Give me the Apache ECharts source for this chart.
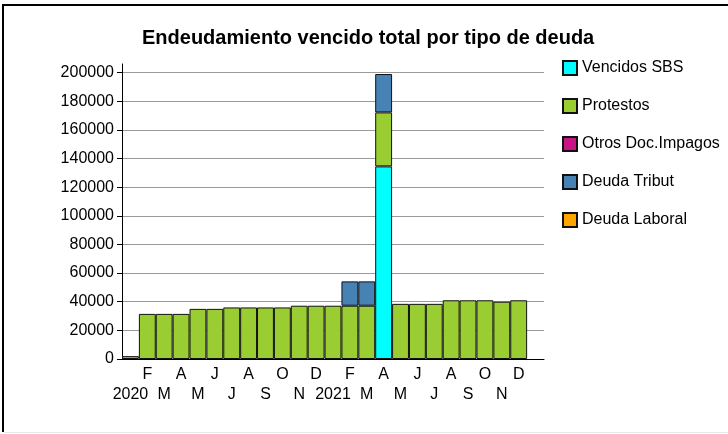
<!DOCTYPE html>
<html>
<head>
<meta charset="utf-8">
<script src="https://cdn.jsdelivr.net/npm/echarts@6/dist/echarts.min.js"></script>
<style>
html,body{margin:0;padding:0;background:#fff;}
#c{width:728px;height:434px;}
</style>
</head>
<body>
<div id="c"></div>
<script>
// Months Jan 2020 .. Dec 2021 (plus one empty trailing slot on the axis)
var monthLabels = ['2020','F','M','A','M','J','J','A','S','O','N','D',
                   '2021','F','M','A','M','J','J','A','S','O','N','D',''];
var seriesNames = ['Vencidos SBS','Protestos','Otros Doc.Impagos','Deuda Tribut','Deuda Laboral'];
var vencidosSBS = [0,0,0,0,0,0,0,0,0,0,0,0, 0,0,0,134500,0,0,0,0,0,0,0,0];
var protestos   = [2000,31500,31500,31500,35000,35000,36000,36000,36000,36000,37200,37200,
                   37200,37200,37200,37700,38500,38500,38500,41000,41000,41000,40000,41000];
var otrosDoc    = [0,0,0,0,0,0,0,0,0,0,0,0, 0,0,0,0,0,0,0,0,0,0,0,0];
var deudaTribut = [0,0,0,0,0,0,0,0,0,0,0,0, 0,17000,17000,26800,0,0,0,0,0,0,0,0];
var deudaLaboral= [0,0,0,0,0,0,0,0,0,0,0,0, 0,0,0,0,0,0,0,0,0,0,0,0];
var yTicks = [0,20000,40000,60000,80000,100000,120000,140000,160000,180000,200000];

var colors = ['#00FFFF','#9ACD32','#C71585','#4682B4','#FFA500'];
var allData = [vencidosSBS, protestos, otrosDoc, deudaTribut, deudaLaboral];
var FONT = 'Liberation Sans';

var chart = echarts.init(document.getElementById('c'), null, {renderer:'canvas'});
var series = seriesNames.map(function(n, k){
  return {
    name: n, type: 'bar', stack: 'total',
    barCategoryGap: 0, barGap: 0,
    itemStyle: {color: colors[k], borderColor: '#111', borderWidth: 1},
    emphasis: {disabled: true},
    data: allData[k].map(function(v){ return v === 0 ? null : v; })
  };
});

chart.setOption({
  animation: false,
  backgroundColor: '#fff',
  color: colors,
  title: {
    text: 'Endeudamiento vencido total por tipo de deuda',
    left: 137, top: 23,
    textStyle: {fontFamily: FONT, fontSize: 20, fontWeight: 'bold', color: '#000'}
  },
  legend: {
    orient: 'vertical', left: 557, top: 53,
    itemWidth: 14, itemHeight: 14, itemGap: 18,
    icon: 'rect',
    textStyle: {fontFamily: FONT, fontSize: 16, color: '#000', lineHeight: 20},
    data: seriesNames
  },
  grid: {left: 122, right: 184, top: 64, bottom: 75, containLabel: false},
  xAxis: {
    type: 'category',
    data: monthLabels,
    boundaryGap: true,
    axisLine: {lineStyle: {color: '#000', width: 1}},
    axisTick: {
      length: 5, lineStyle: {color: '#000'},
      interval: function(i){ return i % 2 === 1 || i === 24; }
    },
    axisLabel: {
      interval: 0, margin: 6, color: '#000', fontFamily: FONT, fontSize: 16, lineHeight: 20,
      formatter: function(v, i){ return i % 2 === 0 ? '\n' + v : v; }
    },
    splitLine: {show: false}
  },
  yAxis: {
    type: 'value', min: 0, max: 206000, interval: 20000,
    axisLine: {show: true, lineStyle: {color: '#000', width: 1}},
    axisTick: {show: true, length: 5, lineStyle: {color: '#000'}, customValues: yTicks},
    axisLabel: {color: '#000', fontFamily: FONT, fontSize: 16, margin: 8, customValues: yTicks,
                formatter: function(v){ return String(v); }},
    splitLine: {show: true, showMaxLine: true, lineStyle: {color: '#9a9a9a', width: 1}}
  },
  series: series,
  graphic: [
    {type: 'line', shape: {x1: 3, y1: 4, x2: 3, y2: 432}, style: {stroke: '#000', lineWidth: 2}, silent: true},
    {type: 'line', shape: {x1: 2, y1: 5, x2: 728, y2: 5}, style: {stroke: '#000', lineWidth: 2}, silent: true},
    {type: 'line', shape: {x1: 4, y1: 432.5, x2: 728, y2: 432.5}, style: {stroke: '#e8e8e8', lineWidth: 1}, silent: true}
  ]
});
</script>
</body>
</html>
